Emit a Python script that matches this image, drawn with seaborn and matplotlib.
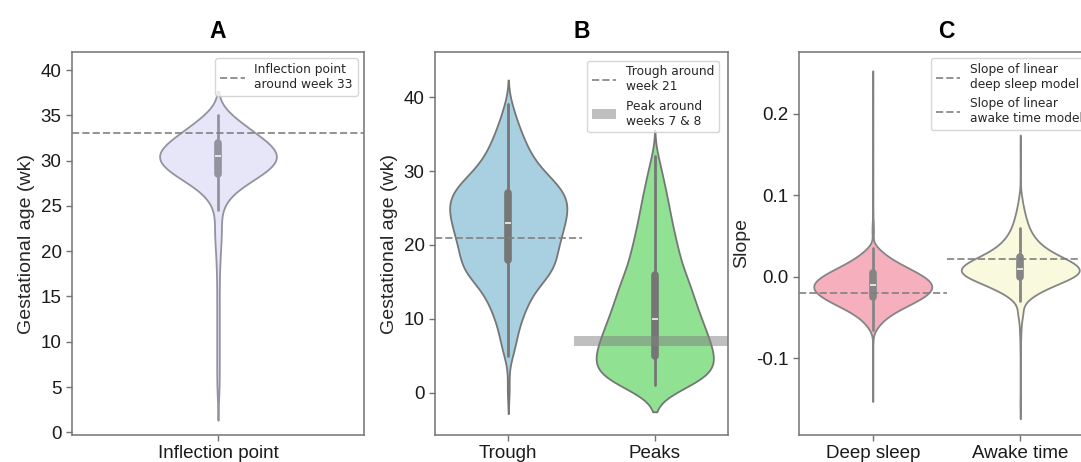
import numpy as np
import pandas as pd
import matplotlib
matplotlib.use("Agg")
import matplotlib.pyplot as plt
import seaborn as sns

# A: inflection point, gestational week and how many bootstrap fits landed there
infl_wk = [4, 5, 6, 7, 8, 9, 10, 11, 12, 13, 14, 15, 16, 17, 18, 19, 20, 21, 22, 23,
           24.5, 25, 25.5, 26, 26.5, 27, 27.5, 28, 28.5, 29, 29.5, 30, 30.5, 31, 31.5,
           32, 32.5, 33, 33.5, 34, 34.5, 35]
infl_n = [3, 4, 4, 4, 4, 4, 4, 4, 4, 4, 4, 4, 4, 4, 5, 6, 8, 9, 12, 14,
          7, 8, 10, 13, 20, 30, 44, 60, 74, 86, 96, 104, 108, 104, 94,
          80, 70, 58, 48, 40, 33, 28]

# B: trough and peaks
trough_wk = [0.5, 5, 6, 7, 8, 9, 10, 11, 12, 13, 14, 15, 16, 17, 18, 19, 20, 21, 22, 23,
             24, 25, 26, 27, 28, 29, 30, 31, 32, 33, 34, 35, 36, 37, 38, 39]
trough_n = [6, 10, 11, 13, 15, 18, 22, 27, 33, 36, 44, 58, 68, 84, 78, 79, 84, 88, 90, 94,
            98, 100, 100, 96, 88, 70, 58, 47, 38, 33, 28, 23, 18, 13, 10, 8]
peak_wk = [1, 2, 3, 4, 5, 6, 7, 8, 9, 10, 11, 12, 13, 14, 15, 16, 17, 18, 19, 20,
           21, 22, 23, 24, 25, 26, 27, 28, 29, 30, 31, 32]
peak_n = [90, 105, 110, 110, 108, 104, 99, 94, 89, 84, 78, 74, 70, 66, 62, 55, 50, 46, 43, 40,
          37, 34, 31, 28, 26, 24, 21, 18, 15, 12, 10, 7]

# C: slopes
deep_slope = [-0.14, -0.12, -0.10, -0.08,
              -0.065, -0.06, -0.055, -0.05, -0.045, -0.04, -0.035, -0.03, -0.025, -0.02, -0.015,
              -0.01, -0.005, 0.0, 0.005, 0.01, 0.015, 0.02, 0.025, 0.03, 0.035,
              0.055, 0.065, 0.08, 0.10, 0.13, 0.16, 0.19, 0.22, 0.24]
deep_n = [1, 1, 1, 1,
          5, 9, 15, 22, 32, 44, 58, 72, 84, 94, 99,
          100, 95, 86, 74, 61, 47, 35, 24, 16, 10,
          3, 2, 1, 1, 1, 1, 1, 1, 1]
awake_slope = [-0.16, -0.15, -0.13, -0.11, -0.09, -0.08, -0.07, -0.06, -0.05, -0.045, -0.04,
               -0.03, -0.025, -0.02, -0.015, -0.01, -0.005, 0.0, 0.005, 0.01, 0.015, 0.02, 0.025,
               0.03, 0.035, 0.04, 0.045, 0.05, 0.055, 0.06, 0.065, 0.07, 0.075, 0.08, 0.085,
               0.09, 0.095, 0.1, 0.105, 0.12, 0.14, 0.16]
awake_n = [1, 1, 1, 1, 1, 1, 2, 3, 4, 5, 6,
           11, 16, 26, 40, 57, 68, 92, 100, 100, 92, 80, 64,
           50, 40, 32, 26, 21, 17, 14, 12, 10, 8, 7, 5,
           4, 3, 2, 1, 1, 1, 1]

# reference lines
infl_ref = 33
trough_ref = 21
peak_ref = 7
deep_ref = -0.02
awake_ref = 0.022


def long_df(groups):
    parts = []
    for name, vals, counts in groups:
        v = np.repeat(np.array(vals, dtype=float), counts)
        parts.append(pd.DataFrame({'group': name, 'value': v}))
    return pd.concat(parts, ignore_index=True)


sns.set_style('ticks')
plt.rcParams['font.family'] = ['Liberation Sans', 'DejaVu Sans']
plt.rcParams['axes.unicode_minus'] = False
plt.rcParams['axes.edgecolor'] = '0.45'
plt.rcParams['xtick.color'] = '0.45'
plt.rcParams['ytick.color'] = '0.45'
plt.rcParams['xtick.labelcolor'] = '0.1'
plt.rcParams['ytick.labelcolor'] = '0.1'

leg_font = {'family': 'DejaVu Sans', 'size': 8.8}

fig = plt.figure(figsize=(10.81, 4.62), dpi=100)
axA = fig.add_axes([72/1081, 27/462, 292/1081, 383/462])
axB = fig.add_axes([435/1081, 27/462, 293/1081, 383/462])
axC = fig.add_axes([799/1081, 27/462, 295/1081, 383/462])

inner = dict(box_width=5.5, whis_width=2)

# --- A ---
dfA = long_df([('Inflection point', infl_wk, infl_n)])
sns.violinplot(data=dfA, x='group', y='value', hue='group', palette=['#E6E6F8'],
               saturation=1, linecolor='#9292a0', linewidth=1.3, width=0.4,
               density_norm='width', bw_adjust=1.15, gridsize=300,
               inner='box', inner_kws=inner, legend=False, ax=axA)
axA.axhline(infl_ref, ls='--', color='gray', lw=1.4, alpha=0.85, zorder=4,
            label='Inflection point\naround week 33')
axA.set_ylim(-0.3, 42)
axA.set_yticks([0, 5, 10, 15, 20, 25, 30, 35, 40])
axA.set_ylabel('Gestational age (wk)')
axA.set_title('A', fontweight='bold', fontsize=16.5, pad=10, color='black')
axA.legend(loc='upper right', prop=leg_font, handlelength=2.0)

# --- B ---
dfB = long_df([('Trough', trough_wk, trough_n), ('Peaks', peak_wk, peak_n)])
sns.violinplot(data=dfB, x='group', y='value', hue='group',
               palette=['#A9D0E0', '#90E192'], saturation=1, linecolor='#767676',
               linewidth=1.3, width=0.8, density_norm='width', bw_adjust=1.05, gridsize=300,
               inner='box', inner_kws=inner, legend=False, ax=axB)
axB.hlines(trough_ref, -0.5, 0.5, ls='--', color='gray', lw=1.4, alpha=0.85, zorder=4,
           label='Trough around\nweek 21')
axB.hlines(peak_ref, 0.45, 1.5, color='gray', lw=7.2, alpha=0.5, zorder=4,
           label='Peak around\nweeks 7 & 8')
axB.set_xlim(-0.5, 1.5)
axB.set_ylim(-5.7, 46.1)
axB.set_yticks([0, 10, 20, 30, 40])
axB.set_ylabel('Gestational age (wk)')
axB.set_title('B', fontweight='bold', fontsize=16.5, pad=10, color='black')
axB.legend(loc='upper right', prop=leg_font, handlelength=2.0, borderaxespad=0.7)

# --- C ---
dfC = long_df([('Deep sleep', deep_slope, deep_n), ('Awake time', awake_slope, awake_n)])
sns.violinplot(data=dfC, x='group', y='value', hue='group',
               palette=['#F6AFBD', '#F9FADD'], saturation=1, linecolor='#858585',
               linewidth=1.3, width=0.8, density_norm='width', bw_adjust=1.0, gridsize=400,
               inner='box', inner_kws=inner, legend=False, ax=axC)
axC.hlines(deep_ref, -0.5, 0.5, ls='--', color='gray', lw=1.4, alpha=0.85, zorder=4,
           label='Slope of linear\ndeep sleep model')
axC.hlines(awake_ref, 0.5, 1.5, ls='--', color='gray', lw=1.4, alpha=0.85, zorder=4,
           label='Slope of linear\nawake time model')
axC.set_xlim(-0.5, 1.5)
axC.set_ylim(-0.194, 0.276)
axC.set_yticks([-0.1, 0.0, 0.1, 0.2])
axC.set_yticklabels(['-0.1', '0.0', '0.1', '0.2'])
axC.set_ylabel('Slope')
axC.set_title('C', fontweight='bold', fontsize=16.5, pad=10, color='black')
axC.legend(loc='upper right', prop=leg_font, handlelength=2.0)

for ax in (axA, axB, axC):
    ax.set_xlabel('')
    ax.yaxis.label.set_size(14)
    ax.tick_params(labelsize=13.5, length=4, width=1)
    for s in ax.spines.values():
        s.set_linewidth(1.1)

fig.savefig('out.png', dpi=100)
